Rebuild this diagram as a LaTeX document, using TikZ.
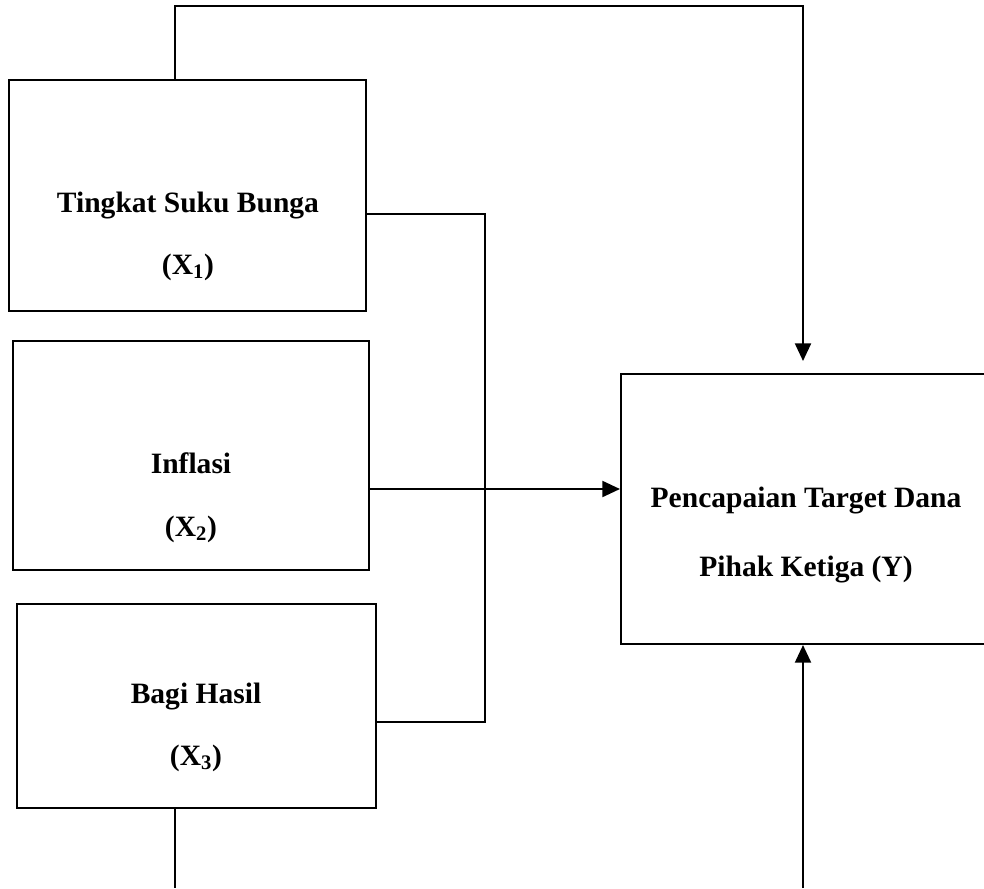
\documentclass[tikz,border=0pt]{standalone}
\usepackage{fontspec}
\setmainfont{Liberation Serif}
\usetikzlibrary{arrows.meta, positioning, calc}
\tikzset{
  varbox/.style={rectangle, draw=black, line width=1.4pt, inner sep=0pt},
  lnarrow/.style={-{Triangle[length=0.44cm, width=0.4cm]}, line width=1.4pt, color=black},
  line/.style={line width=1.4pt, color=black}
}

\begin{document}
\begin{tikzpicture}[x=0.025cm, y=-0.025cm,
  vartext/.style={font=\fontsize{21}{25}\selectfont\bfseries, inner sep=0pt, anchor=base}]
  \useasboundingbox (0,0) rectangle (984,888);

  % Nodes
  \node[varbox, minimum width=8.925cm, minimum height=5.775cm] (x1) at (187.5,195.5) {};
  \node[varbox, minimum width=8.9cm, minimum height=5.725cm] (x2) at (191,455.5) {};
  \node[varbox, minimum width=8.975cm, minimum height=5.1cm] (x3) at (196.5,706) {};
  \node[varbox, minimum width=9.225cm, minimum height=6.75cm] (y) at (805.5,509) {};

  \node[vartext] (x1name) at (188,212) {Tingkat Suku Bunga};
  \node[vartext] (x1sym) at (188,274) {(X\textsubscript{1})};
  \node[vartext] (x2name) at (191,473) {Inflasi};
  \node[vartext] (x2sym) at (191,536) {(X\textsubscript{2})};
  \node[vartext] (x3name) at (196,703) {Bagi Hasil};
  \node[vartext] (x3sym) at (196,765) {(X\textsubscript{3})};
  \node[vartext] (yname) at (806,507) {Pencapaian Target Dana};
  \node[vartext] (ysym) at (806,576) {Pihak Ketiga (Y)};

  \coordinate (topturn) at (803,6);
  \coordinate (botleft) at (175,888);
  \coordinate (botright) at (803,888);

  % Connections
  \draw[lnarrow, shorten >=0.3cm] (175,0 |- x1.north) |- (topturn) -- (topturn |- y.north);
  \draw[line] (x1.east |- 0,214) -| (485,722) -- (x3.east |- 0,722);
  \draw[lnarrow] (x2.east |- 0,489) -- (y.west |- 0,489);
  \draw[line] (x3.south -| botleft) -- (botleft);
  \draw[lnarrow] (botright) -- (botright |- y.south);

\end{tikzpicture}
\end{document}
